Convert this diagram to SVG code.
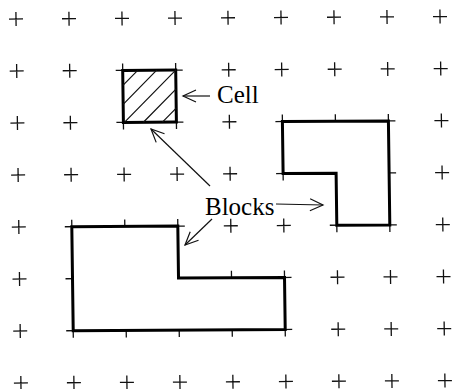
<svg xmlns="http://www.w3.org/2000/svg" xmlns:xlink="http://www.w3.org/1999/xlink" width="454" height="389" viewBox="0 0 454 389">
<style>
.plus{stroke:#111;stroke-width:1.3;fill:none}
.blk{stroke:#000;stroke-width:3;fill:#fff;stroke-linejoin:miter}
.hatch{stroke:#111;stroke-width:1.2}
.conn{stroke:#111;stroke-width:1.2;fill:none}
.lbl{font-family:"Liberation Serif","Times New Roman",serif;font-size:25px;fill:#000}
</style>
<defs>
<path id="p" class="plus" d="M-7 0H7M0 -7V7"/>
<marker id="ah" markerUnits="userSpaceOnUse" markerWidth="20" markerHeight="20" viewBox="-16 -8 20 16" refX="0" refY="0" orient="auto">
<path d="M-13 -6L0 0L-13 6" fill="none" stroke="#111" stroke-width="1.2"/>
</marker>
</defs>
<rect width="454" height="389" fill="#fff"/>
<g transform="matrix(1 -0.0057 0.0135 1 16 19)">
<g id="grid">
<use xlink:href="#p" x="0" y="0"/><use xlink:href="#p" x="53" y="0"/><use xlink:href="#p" x="106" y="0"/><use xlink:href="#p" x="159" y="0"/><use xlink:href="#p" x="212" y="0"/><use xlink:href="#p" x="265" y="0"/><use xlink:href="#p" x="318" y="0"/><use xlink:href="#p" x="371" y="0"/><use xlink:href="#p" x="424" y="0"/>
<use xlink:href="#p" x="0" y="52"/><use xlink:href="#p" x="53" y="52"/><use xlink:href="#p" x="106" y="52"/><use xlink:href="#p" x="159" y="52"/><use xlink:href="#p" x="212" y="52"/><use xlink:href="#p" x="265" y="52"/><use xlink:href="#p" x="318" y="52"/><use xlink:href="#p" x="371" y="52"/><use xlink:href="#p" x="424" y="52"/>
<use xlink:href="#p" x="0" y="104"/><use xlink:href="#p" x="53" y="104"/><use xlink:href="#p" x="106" y="104"/><use xlink:href="#p" x="159" y="104"/><use xlink:href="#p" x="212" y="104"/><use xlink:href="#p" x="265" y="104"/><use xlink:href="#p" x="318" y="104"/><use xlink:href="#p" x="371" y="104"/><use xlink:href="#p" x="424" y="104"/>
<use xlink:href="#p" x="0" y="156"/><use xlink:href="#p" x="53" y="156"/><use xlink:href="#p" x="106" y="156"/><use xlink:href="#p" x="159" y="156"/><use xlink:href="#p" x="212" y="156"/><use xlink:href="#p" x="265" y="156"/><use xlink:href="#p" x="318" y="156"/><use xlink:href="#p" x="371" y="156"/><use xlink:href="#p" x="424" y="156"/>
<use xlink:href="#p" x="0" y="208"/><use xlink:href="#p" x="53" y="208"/><use xlink:href="#p" x="106" y="208"/><use xlink:href="#p" x="159" y="208"/><use xlink:href="#p" x="212" y="208"/><use xlink:href="#p" x="265" y="208"/><use xlink:href="#p" x="318" y="208"/><use xlink:href="#p" x="371" y="208"/><use xlink:href="#p" x="424" y="208"/>
<use xlink:href="#p" x="0" y="260"/><use xlink:href="#p" x="53" y="260"/><use xlink:href="#p" x="159" y="260"/><use xlink:href="#p" x="212" y="260"/><use xlink:href="#p" x="265" y="260"/><use xlink:href="#p" x="318" y="260"/><use xlink:href="#p" x="371" y="260"/><use xlink:href="#p" x="424" y="260"/>
<use xlink:href="#p" x="0" y="312"/><use xlink:href="#p" x="53" y="312"/><use xlink:href="#p" x="106" y="312"/><use xlink:href="#p" x="159" y="312"/><use xlink:href="#p" x="212" y="312"/><use xlink:href="#p" x="265" y="312"/><use xlink:href="#p" x="318" y="312"/><use xlink:href="#p" x="371" y="312"/><use xlink:href="#p" x="424" y="312"/>
<use xlink:href="#p" x="0" y="364"/><use xlink:href="#p" x="53" y="364"/><use xlink:href="#p" x="106" y="364"/><use xlink:href="#p" x="159" y="364"/><use xlink:href="#p" x="212" y="364"/><use xlink:href="#p" x="265" y="364"/><use xlink:href="#p" x="318" y="364"/><use xlink:href="#p" x="371" y="364"/><use xlink:href="#p" x="424" y="364"/>
</g>
<g id="cell">
<rect class="blk" x="106" y="52" width="53" height="52"/>
<path class="hatch" d="M106 67L121 52M106 86L140 52M107 104L159 52M126 104L159 71M145 104L159 90"/>
</g>
<g id="block-l">
<polygon class="blk" points="265,104 371,104 371,208 318,208 318,156 265,156"/>
</g>
<g id="block-big">
<polygon class="blk" points="53,208 159,208 159,260 265,260 265,312 53,312"/>
</g>
</g>
<g id="connectors">
<line class="conn" x1="210" y1="96" x2="183" y2="96" marker-end="url(#ah)"/>
<line class="conn" x1="210" y1="186" x2="151" y2="129" marker-end="url(#ah)"/>
<line class="conn" x1="276" y1="204" x2="323" y2="205" marker-end="url(#ah)"/>
<line class="conn" x1="212" y1="219" x2="185" y2="245" marker-end="url(#ah)"/>
</g>
<g id="label-cell"><text class="lbl" x="217" y="103">Cell</text></g>
<g id="label-blocks"><text class="lbl" x="205" y="215">Blocks</text></g>
</svg>
